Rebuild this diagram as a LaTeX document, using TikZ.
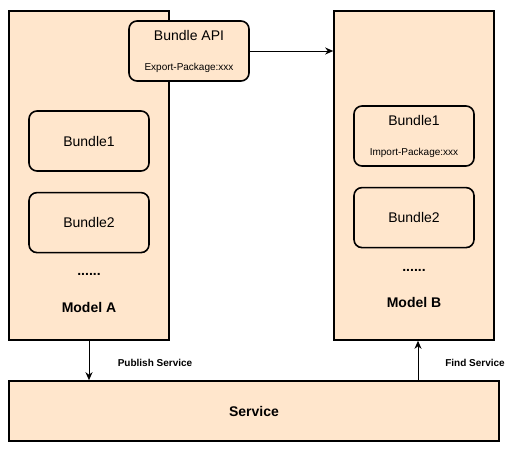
\documentclass[tikz,border=0pt]{standalone}
\usepackage{fontspec}
\setmainfont{Liberation Sans}
\usetikzlibrary{positioning,arrows.meta}
\definecolor{peach}{HTML}{FFE6CC}

\begin{document}
\begin{tikzpicture}[x=1pt,y=1pt]
		\tikzstyle{model}=[rectangle, draw=black, line width=1.6pt, fill=peach, minimum width=160pt, minimum height=329pt, inner sep=0pt]
		\tikzstyle{bundle}=[rectangle, rounded corners=8pt, draw=black, line width=1.6pt, fill=peach, minimum width=120pt, minimum height=60pt, inner sep=0pt, align=center, font=\fontsize{14}{16}\selectfont]
		\tikzstyle{small}=[font=\bfseries\fontsize{10}{12}\selectfont]
		\tikzstyle{title}=[font=\bfseries\fontsize{14}{16}\selectfont]
		\tikzstyle{connect}=[line width=0.9pt, -{Stealth[length=8pt,width=7pt,inset=2.5pt]}]
		\useasboundingbox (0,0) rectangle (511,451);
		
		\node[model] (ma) at (89,275.5) {};
		\node[model] (mb) at (414,275.5) {};
		\node[model, minimum width=490pt, minimum height=60pt] (srv) at (254,40) {};
		\node[title] at (srv) {Service};
		
		\node[bundle] (api) at (189,400) {Bundle API\\[14pt]{\fontsize{10}{12}\selectfont Export-Package:xxx}};
		
		\node[bundle] (a1) at (89,310) {Bundle1};
		\node[bundle] (a2) [below=20pt of a1] {Bundle2};
		\node[title]  (ad) at (89,177) {......};
		\node[title]  (at) at (89,144) {Model A};
		
		\node[bundle] (b1) at (414,315) {Bundle1\\[14pt]{\fontsize{10}{12}\selectfont Import-Package:xxx}};
		\node[bundle] (b2) [below=20pt of b1] {Bundle2};
		\node[title]  (bd) at (414,181) {......};
		\node[title]  (bt) at (414,149) {Model B};
		
		\coordinate (fp) at (418,0);
		
		\draw[connect] (api.east) -- (api.east -| mb.west);
		\draw[connect] (ma.south) -- (ma.south |- srv.north);
		\draw[connect] (srv.north -| fp) -- (mb.south -| fp);
		
		\node[small] (pl) at (155,88) {Publish Service};
		\node[small] (fl) at (475,88) {Find Service};
		
		\end{tikzpicture}
\end{document}
